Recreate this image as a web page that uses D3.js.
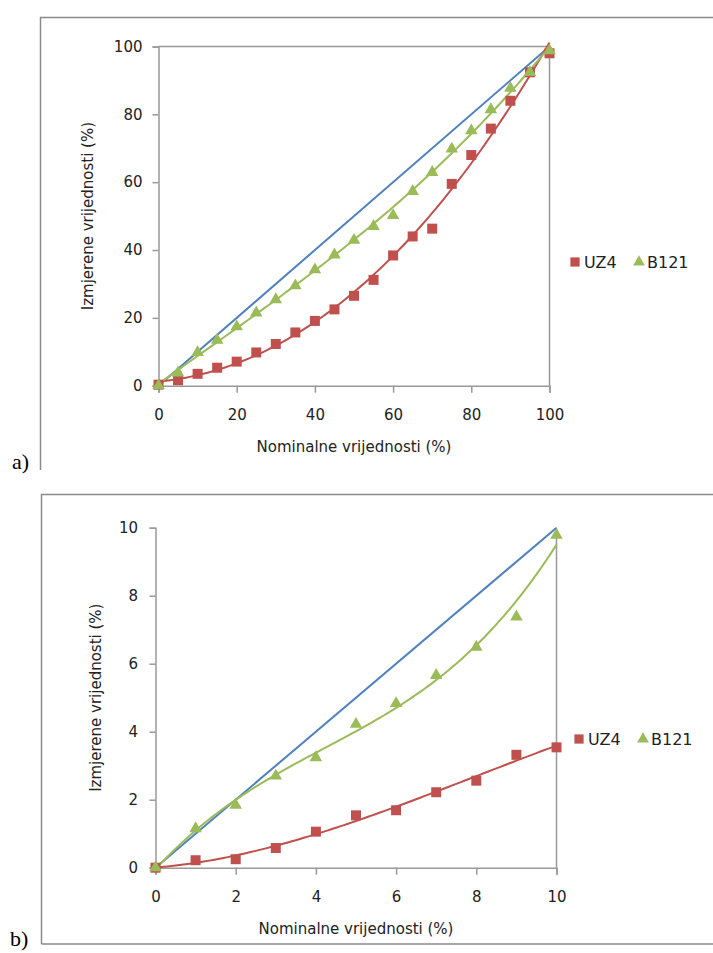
<!DOCTYPE html>
<html><head><meta charset="utf-8">
<script src="https://cdn.jsdelivr.net/npm/d3@7"></script>
<style>
html,body{margin:0;padding:0;background:#fff;}
svg{display:block;}
text{font-family:"DejaVu Sans",sans-serif;fill:#222;}
</style></head>
<body>
<script>
// ---- Data ----
const seriesNames = ["UZ4", "B121"];
const xTitle = "Nominalne vrijednosti (%)";
const yTitle = "Izmjerene vrijednosti (%)";

// Panel a) 0–100 %
const aX = [0,5,10,15,20,25,30,35,40,45,50,55,60,65,70,75,80,85,90,95,100];
const aUZ4 = [0.3,1.6,3.5,5.3,7.1,9.8,12.3,15.7,19.1,22.5,26.5,31.2,38.4,44.0,46.3,59.5,68.0,75.8,84.0,92.4,98.0];
const aB121 = [0,3.8,9.8,13.4,17.4,21.5,25.4,29.5,34.2,38.6,42.9,47.0,50.2,57.3,62.9,69.8,75.2,81.4,87.7,92.4,98.8];
const aTicks = [0,20,40,60,80,100];
const aIdeal = [[0,0],[100,100]];

// Panel b) 0–10 %
const bX = [0,1,2,3,4,5,6,7,8,9,10];
const bUZ4 = [0,0.22,0.25,0.58,1.06,1.54,1.69,2.22,2.56,3.32,3.54];
const bB121 = [0,1.15,1.84,2.7,3.24,4.22,4.83,5.66,6.49,7.38,9.78];
const bTicks = [0,2,4,6,8,10];
const bIdeal = [[0,0],[10,10]];

const colors = {UZ4:"#C0504D", B121:"#9BBB59", ideal:"#4F81BD"};

// least-squares polynomial trendline (as Excel's polynomial trendline)
function polyFit(xs, ys, deg){
  const n = deg+1;
  const A = Array.from({length:n},()=>new Array(n+1).fill(0));
  for(let k=0;k<xs.length;k++){
    for(let i=0;i<n;i++){
      for(let j=0;j<n;j++) A[i][j]+=Math.pow(xs[k],i+j);
      A[i][n]+=ys[k]*Math.pow(xs[k],i);
    }
  }
  for(let i=0;i<n;i++){
    let p=i; for(let r=i+1;r<n;r++) if(Math.abs(A[r][i])>Math.abs(A[p][i])) p=r;
    [A[i],A[p]]=[A[p],A[i]];
    for(let r=0;r<n;r++){ if(r===i) continue; const f=A[r][i]/A[i][i]; for(let c=i;c<=n;c++) A[r][c]-=f*A[i][c]; }
  }
  const coef = A.map((row,i)=>row[n]/row[i]);
  return x=>coef.reduce((s,c,i)=>s+c*Math.pow(x,i),0);
}

const W=713,H=953;
const svg=d3.select("body").append("svg").attr("width",W).attr("height",H);

// outer frames
const frameColor="#8a8a8a";
svg.append("path").attr("d","M40.5,470 V17.5 H713").attr("fill","none").attr("stroke",frameColor).attr("stroke-width",1.5);
svg.append("path").attr("d","M41.5,944 V494.5 H713 M41.5,944 H713").attr("fill","none").attr("stroke",frameColor).attr("stroke-width",1.5);
svg.append("text").attr("x",12).attr("y",469).text("a)").style("font-family","'Liberation Serif',serif").style("font-size","22px").style("fill","#000");
svg.append("text").attr("x",10).attr("y",946).text("b)").style("font-family","'Liberation Serif',serif").style("font-size","22px").style("fill","#000");

function panel(cfg){
  const g=svg.append("g");
  const x=d3.scaleLinear().domain(cfg.domain).range([cfg.left,cfg.right]);
  const y=d3.scaleLinear().domain(cfg.domain).range([cfg.bottom,cfg.top]);
  const axisColor="#999";
  // plot border lines
  if(cfg.topLine) g.append("line").attr("x1",cfg.left).attr("x2",cfg.right).attr("y1",cfg.top).attr("y2",cfg.top).attr("stroke",axisColor).attr("stroke-width",1.5);
  g.append("line").attr("x1",cfg.right).attr("x2",cfg.right).attr("y1",cfg.top).attr("y2",cfg.bottom).attr("stroke",axisColor).attr("stroke-width",1.5);

  const xa=g.append("g").attr("transform",`translate(0,${cfg.bottom})`)
    .call(d3.axisBottom(x).tickValues(cfg.ticks).tickSize(7).tickPadding(17).tickFormat(d3.format("d")));
  const ya=g.append("g").attr("transform",`translate(${cfg.left},0)`)
    .call(d3.axisLeft(y).tickValues(cfg.ticks).tickSize(6).tickPadding(cfg.ypad).tickFormat(d3.format("d")));
  [xa,ya].forEach(a=>{
    a.select(".domain").attr("stroke",axisColor).attr("stroke-width",1.5);
    a.selectAll(".tick line").attr("stroke",axisColor).attr("stroke-width",1.5);
    a.selectAll(".tick text").style("font-size","15px").style("font-family","'DejaVu Sans',sans-serif").attr("fill","#222");
  });

  // ideal line
  g.append("path").datum(cfg.ideal).attr("fill","none").attr("stroke",colors.ideal).attr("stroke-width",2)
    .attr("d",d3.line().x(d=>x(d[0])).y(d=>y(d[1])));

  // trendlines
  const lo=cfg.domain[0], hi=cfg.domain[1];
  [["UZ4",cfg.uz4],["B121",cfg.b121]].forEach(([name,vals])=>{
    const f=polyFit(cfg.xs,vals,3);
    const pts=d3.range(0,101).map(i=>{const xv=lo+(hi-lo)*i/100;return [xv,f(xv)];});
    g.append("path").datum(pts).attr("fill","none").attr("stroke",colors[name]).attr("stroke-width",2)
      .attr("d",d3.line().x(d=>x(d[0])).y(d=>y(d[1])));
  });

  // markers
  const sq=d3.symbol().type(d3.symbolSquare).size(100);
  const tri=d3.symbol().type(d3.symbolTriangle).size(68);
  g.selectAll(".sq").data(cfg.xs.map((xv,i)=>[xv,cfg.uz4[i]])).join("path")
    .attr("d",sq).attr("fill",colors.UZ4).attr("transform",d=>`translate(${x(d[0])},${y(d[1])})`);
  g.selectAll(".tri").data(cfg.xs.map((xv,i)=>[xv,cfg.b121[i]])).join("path")
    .attr("d",tri).attr("fill",colors.B121).attr("transform",d=>`translate(${x(d[0])},${y(d[1])})`);

  // titles
  g.append("text").attr("x",(cfg.left+cfg.right)/2).attr("y",cfg.bottom+66).attr("text-anchor","middle")
    .style("font-size","15px").text(xTitle);
  g.append("text").attr("transform",`translate(${cfg.ytx},${(cfg.top+cfg.bottom)/2}) rotate(-90)`)
    .attr("text-anchor","middle").style("font-size","15px").text(yTitle);

  // legend
  const lg=g.append("g").attr("transform",`translate(${cfg.legX},${cfg.legY})`);
  lg.append("path").attr("d",d3.symbol().type(d3.symbolSquare).size(85)).attr("fill",colors.UZ4);
  lg.append("text").attr("x",9).attr("y",6).style("font-size","16px").text(seriesNames[0]);
  lg.append("path").attr("d",d3.symbol().type(d3.symbolTriangle).size(60)).attr("fill",colors.B121).attr("transform","translate(64,0)");
  lg.append("text").attr("x",72).attr("y",6).style("font-size","16px").text(seriesNames[1]);
}

panel({domain:[0,100],xs:aX,uz4:aUZ4,b121:aB121,ticks:aTicks,ideal:aIdeal,
  left:158.5,right:549.5,top:46.5,bottom:385.7,topLine:true,ypad:10,ytx:93,legX:575,legY:262});
panel({domain:[0,10],xs:bX,uz4:bUZ4,b121:bB121,ticks:bTicks,ideal:bIdeal,
  left:155.5,right:556.5,top:527.7,bottom:867.7,topLine:false,ypad:11.5,ytx:101,legX:579,legY:739});
</script>
</body></html>
